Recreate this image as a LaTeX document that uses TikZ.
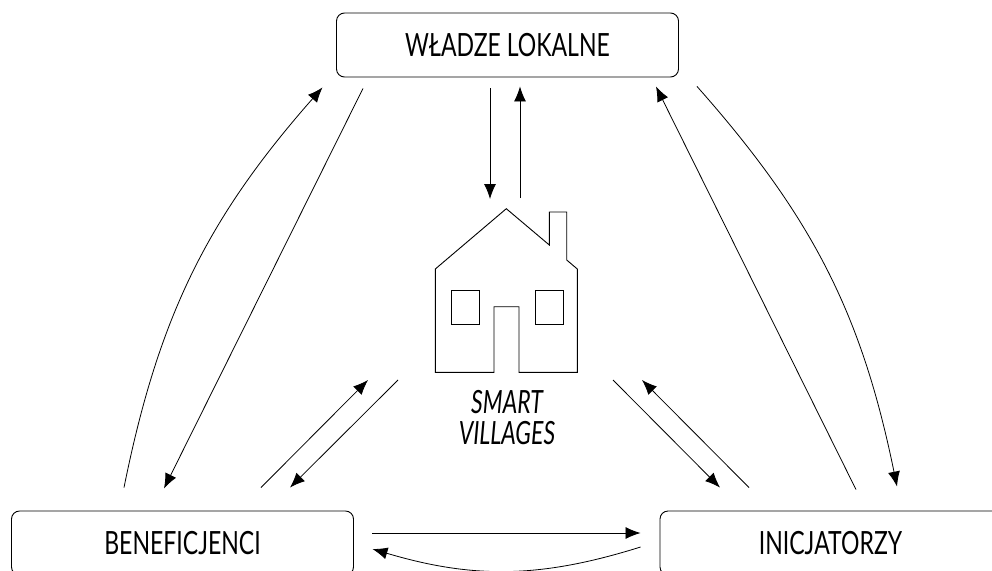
\documentclass[tikz,border=0pt]{standalone}
\usepackage{fontspec}
\setmainfont[FakeStretch=0.72]{Lato}
\usetikzlibrary{arrows.meta}
\tikzset{
	blok/.style={draw,rounded corners=8pt,line width=0.9pt,minimum width=342pt,minimum height=64pt,inner sep=0pt,font=\fontsize{32}{32}\selectfont},
	strzalka/.style={line width=0.8pt,-{Latex[length=15pt,width=12pt]}},
	dom/.style={line width=0.9pt,line join=miter}
}
\begin{document}
\begin{tikzpicture}[x=1pt,y=-1pt]
	\useasboundingbox (0,0) rectangle (992,570);
	\clip (0,0) rectangle (992,570);
	\node[blok] (wladze) at (507.5,45) {WŁADZE LOKALNE};
	\node[blok] (beneficjenci) at (182.5,543) {BENEFICJENCI};
	\node[blok,minimum width=341pt] (inicjatorzy) at (830.5,543) {INICJATORZY};
	\coordinate (srodek) at (506,290);
	% dom
	\draw[dom] (435.3,372.3) -- (435.3,269) -- (506.3,208.7) -- (549.3,245) -- (549.3,212) -- (566.7,212) -- (566.7,260) -- (577.3,269) -- (577.3,372.3) -- (519,372.3) -- (519,306.7) -- (494,306.7) -- (494,372.3) -- cycle;
	\draw[dom] (451.3,290.3) rectangle (479.7,324.3);
	\draw[dom] (535,290.3) rectangle (563.3,324.3);
	\node[font=\fontsize{32}{31}\selectfont\itshape,align=center,inner sep=0pt] (napis) at (507,418) {SMART\\VILLAGES};
	% strzalki gora
	\draw[strzalka] ([shift={(-17.5,11)}]wladze.south) -- ([shift={(-16,-91)}]srodek);
	\draw[strzalka] ([shift={(14,-92)}]srodek) -- ([shift={(12.5,9)}]wladze.south);
	% lewa strona
	\draw[strzalka] ([shift={(-58.5,-23)}]beneficjenci.north) to[bend left=15] ([shift={(-185,10)}]wladze.south);
	\draw[strzalka] ([shift={(-144.5,11)}]wladze.south) -- ([shift={(-18.5,-22)}]beneficjenci.north);
	% prawa strona
	\draw[strzalka] ([shift={(25.5,-21)}]inicjatorzy.north) -- ([shift={(148.5,9)}]wladze.south);
	\draw[strzalka] ([shift={(189.5,9)}]wladze.south) to[bend left=15] ([shift={(66.5,-24)}]inicjatorzy.north);
	% przekatne
	\draw[strzalka] ([shift={(78.5,-23)}]beneficjenci.north) -- ([shift={(-138,90)}]srodek);
	\draw[strzalka] ([shift={(-108,90)}]srodek) -- ([shift={(107.5,-23)}]beneficjenci.north);
	\draw[strzalka] ([shift={(107,90)}]srodek) -- ([shift={(-110.5,-23)}]inicjatorzy.north);
	\draw[strzalka] ([shift={(-81.5,-23)}]inicjatorzy.north) -- ([shift={(136,90)}]srodek);
	% dol
	\draw[strzalka] ([shift={(18.5,-10)}]beneficjenci.east) -- ([shift={(-19,-10)}]inicjatorzy.west);
	\draw[strzalka] ([shift={(-19,4)}]inicjatorzy.west) to[bend left=17] ([shift={(18.5,6)}]beneficjenci.east);
\end{tikzpicture}
\end{document}
